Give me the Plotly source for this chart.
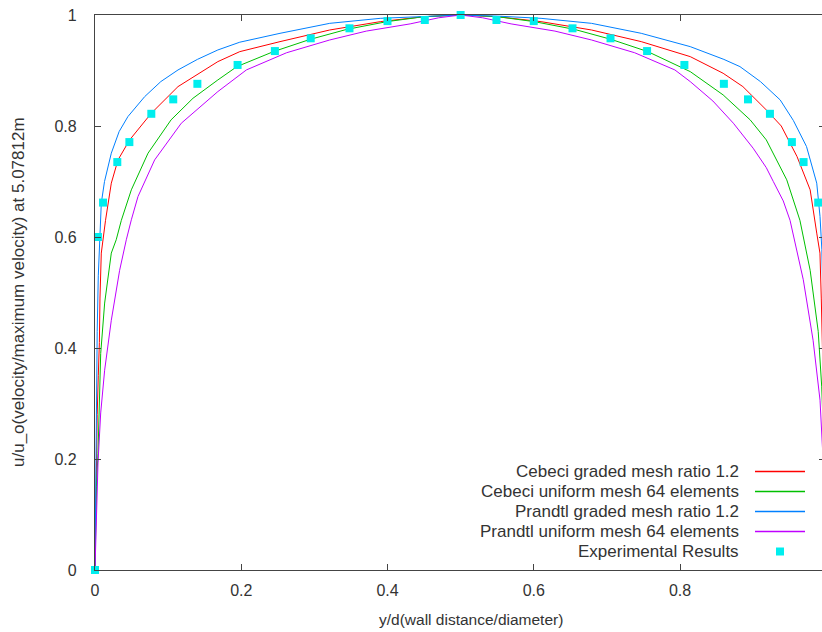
import plotly.graph_objects as go

# ---------------- data ----------------
cebeci_graded_x = [0, 0.0008, 0.0015, 0.003, 0.0045, 0.006, 0.0068, 0.0086, 0.0144, 0.0223,
                   0.0315, 0.0474, 0.077, 0.1135, 0.168, 0.198, 0.253, 0.321, 0.39, 0.45, 0.5,
                   0.55, 0.61, 0.679, 0.747, 0.814, 0.859, 0.886, 0.918, 0.9385, 0.96, 0.978,
                   0.987, 0.9914, 0.9932, 0.994, 0.9955, 0.997, 0.9985, 0.9992, 1.0]
cebeci_graded_y = [0, 0.11, 0.19, 0.28, 0.35, 0.41, 0.49, 0.571, 0.63, 0.697,
                   0.739, 0.775, 0.823, 0.871, 0.916, 0.934, 0.952, 0.973, 0.988, 0.997, 1.0,
                   0.997, 0.988, 0.973, 0.952, 0.925, 0.895, 0.871, 0.829, 0.80, 0.745, 0.685,
                   0.607, 0.571, 0.49, 0.45, 0.35, 0.28, 0.19, 0.11, 0]

cebeci_uniform_x = [0, 0.0005, 0.001, 0.002, 0.0041, 0.005, 0.0078, 0.0132, 0.0223, 0.029,
                    0.036, 0.0497, 0.0725, 0.104, 0.134, 0.168, 0.194, 0.244, 0.294, 0.344,
                    0.399, 0.45, 0.5, 0.55, 0.601, 0.656, 0.706, 0.756, 0.814, 0.859, 0.896,
                    0.918, 0.946, 0.964, 0.978, 0.989, 0.9938, 0.996, 0.998, 0.999, 0.9995, 1.0]
cebeci_uniform_y = [0, 0.05, 0.09, 0.15, 0.21, 0.27, 0.39, 0.481, 0.571, 0.595,
                    0.63, 0.685, 0.751, 0.811, 0.850, 0.883, 0.907, 0.934, 0.956, 0.974,
                    0.988, 0.997, 1.0, 0.997, 0.988, 0.974, 0.956, 0.934, 0.898, 0.856, 0.811,
                    0.775, 0.703, 0.63, 0.54, 0.43, 0.33, 0.25, 0.15, 0.09, 0.05, 0]

prandtl_graded_x = [0, 0.0005, 0.001, 0.002, 0.003, 0.0045, 0.0065, 0.0086, 0.013, 0.0223,
                    0.033, 0.045, 0.068, 0.09, 0.1135, 0.14, 0.168, 0.198, 0.253, 0.321,
                    0.39, 0.45, 0.5, 0.55, 0.61, 0.679, 0.747, 0.814, 0.86, 0.882, 0.91,
                    0.937, 0.955, 0.973, 0.987, 0.9915, 0.994, 0.996, 0.998, 0.999, 1.0]
prandtl_graded_y = [0, 0.1, 0.2, 0.33, 0.43, 0.53, 0.61, 0.661, 0.70, 0.751,
                    0.79, 0.817, 0.853, 0.88, 0.901, 0.92, 0.937, 0.951, 0.967, 0.985,
                    0.994, 0.998, 1.0, 0.998, 0.994, 0.985, 0.967, 0.943, 0.92, 0.907, 0.88,
                    0.847, 0.81, 0.763, 0.697, 0.637, 0.577, 0.45, 0.3, 0.15, 0]

prandtl_uniform_x = [0, 0.0005, 0.0023, 0.0041, 0.0078, 0.0132, 0.0223, 0.0337, 0.0428, 0.0497,
                     0.0588, 0.0816, 0.118, 0.155, 0.168, 0.207, 0.262, 0.321, 0.371, 0.431,
                     0.47, 0.5, 0.53, 0.569, 0.629, 0.679, 0.738, 0.793, 0.814, 0.845, 0.873,
                     0.9, 0.918, 0.9276, 0.9412, 0.9505, 0.9686, 0.982, 0.9915, 0.9959, 0.9977,
                     0.9995, 1.0]
prandtl_uniform_y = [0, 0.03, 0.139, 0.193, 0.283, 0.36, 0.45, 0.54, 0.595, 0.631,
                     0.673, 0.739, 0.805, 0.848, 0.862, 0.901, 0.932, 0.955, 0.971, 0.984,
                     0.995, 1.0, 0.995, 0.984, 0.971, 0.955, 0.932, 0.901, 0.88, 0.845, 0.805,
                     0.76, 0.725, 0.70, 0.665, 0.63, 0.523, 0.414, 0.306, 0.193, 0.139,
                     0.03, 0]

experimental_x = [0, 0.004, 0.011, 0.0305, 0.047, 0.077, 0.107, 0.14, 0.195, 0.246, 0.295,
                  0.348, 0.40, 0.451, 0.5, 0.549, 0.6, 0.653, 0.705, 0.755, 0.806, 0.86,
                  0.893, 0.923, 0.953, 0.969, 0.989, 0.996, 1.0]
experimental_y = [0, 0.6, 0.662, 0.735, 0.771, 0.822, 0.848, 0.876, 0.91, 0.935, 0.958,
                  0.976, 0.989, 0.991, 1.0, 0.991, 0.989, 0.976, 0.958, 0.935, 0.91, 0.876,
                  0.848, 0.822, 0.771, 0.735, 0.662, 0.6, 0]

x_tick_vals = [0, 0.2, 0.4, 0.6, 0.8]
x_tick_text = ["0", "0.2", "0.4", "0.6", "0.8"]
y_tick_vals = [0, 0.2, 0.4, 0.6, 0.8, 1.0]
y_tick_text = ["0", "0.2", "0.4", "0.6", "0.8", "1"]

series_names = ["Cebeci graded mesh ratio 1.2", "Cebeci uniform mesh 64 elements",
                "Prandtl graded mesh ratio 1.2", "Prandtl uniform mesh 64 elements",
                "Experimental Results"]
series_colors = ["#ff0000", "#00c000", "#0080ff", "#c000ff", "#00eeee"]

x_title = "y/d(wall distance/diameter)"
y_title = "u/u_o(velocity/maximum velocity) at 5.07812m"

# ---------------- figure ----------------
FONT = "Liberation Sans, Arial, sans-serif"
TXT = "#333333"
AX = "#444444"
W, H = 822, 632
ML, MR, MT, MB = 95, 0, 15, 62
PW, PH = W - ML - MR, H - MT - MB

def px_to_paper(px, py):
    return (px - ML) / PW, (H - MB - py) / PH

fig = go.Figure()
line_sets = [(cebeci_graded_x, cebeci_graded_y), (cebeci_uniform_x, cebeci_uniform_y),
             (prandtl_graded_x, prandtl_graded_y), (prandtl_uniform_x, prandtl_uniform_y)]
for (xs, ys), name, col in zip(line_sets, series_names[:4], series_colors[:4]):
    fig.add_trace(go.Scatter(x=xs, y=ys, mode="lines", name=name,
                             line=dict(color=col, width=1), showlegend=False))
fig.add_trace(go.Scatter(x=experimental_x, y=experimental_y, mode="markers",
                         name=series_names[4], yaxis="y2", cliponaxis=False,
                         marker=dict(symbol="square", size=8, color=series_colors[4]),
                         showlegend=False))

x_max = (W - ML) / 731.25

fig.update_layout(
    width=W, height=H,
    margin=dict(l=ML, r=MR, t=MT, b=MB),
    paper_bgcolor="white", plot_bgcolor="white",
    font=dict(family=FONT, size=16, color=TXT),
    xaxis=dict(range=[0, x_max], tickvals=x_tick_vals, ticktext=x_tick_text,
               ticks="inside", ticklen=6, tickcolor=AX, tickwidth=1,
               showline=True, linecolor=AX, linewidth=1.3, mirror="ticks",
               showgrid=False, zeroline=False, ticklabelstandoff=6,
               tickfont=dict(family=FONT, size=16, color=TXT)),
    yaxis=dict(range=[0, 1], tickvals=y_tick_vals, ticktext=y_tick_text,
               ticks="inside", ticklen=6, tickcolor=AX, tickwidth=1,
               showline=True, linecolor=AX, linewidth=1.3, mirror=False,
               showgrid=False, zeroline=False, ticklabelstandoff=14,
               tickfont=dict(family=FONT, size=16, color=TXT)),
    yaxis2=dict(range=[0, 1], overlaying="y", side="right", tickvals=y_tick_vals,
                ticks="inside", ticklen=3, tickcolor=AX, showticklabels=False,
                showline=False, showgrid=False, zeroline=False),
)

annotations = []
shapes = []
ax_, ay_ = px_to_paper(471, 619)
annotations.append(dict(x=ax_, y=ay_, xref="paper", yref="paper", text=x_title,
                        showarrow=False, xanchor="center", yanchor="middle",
                        font=dict(family=FONT, size=15.5, color=TXT)))
ax_, ay_ = px_to_paper(18, 292)
annotations.append(dict(x=ax_, y=ay_, xref="paper", yref="paper", text=y_title,
                        showarrow=False, textangle=-90, xanchor="center", yanchor="middle",
                        font=dict(family=FONT, size=17, color=TXT)))

row_y = [471.5, 491.5, 511.5, 531.5, 551.5]
for i, (name, col) in enumerate(zip(series_names, series_colors)):
    tx, ty = px_to_paper(741, row_y[i])
    annotations.append(dict(x=tx, y=ty, xref="paper", yref="paper", text=name,
                            showarrow=False, xanchor="right", yanchor="middle",
                            font=dict(family=FONT, size=17, color=TXT)))
    if i < 4:
        x0, y0 = px_to_paper(755, row_y[i])
        x1, _ = px_to_paper(805, row_y[i])
        shapes.append(dict(type="line", xref="paper", yref="paper", x0=x0, x1=x1,
                           y0=y0, y1=y0, layer="above", opacity=1,
                           line=dict(color=col, width=1.5)))
    else:
        x0, y0 = px_to_paper(776, row_y[i] + 4)
        x1, y1 = px_to_paper(784, row_y[i] - 4)
        shapes.append(dict(type="rect", xref="paper", yref="paper", x0=x0, x1=x1,
                           y0=y0, y1=y1, layer="above", line=dict(width=0),
                           fillcolor=col))

fig.update_layout(annotations=annotations, shapes=shapes)
fig.write_html("out.html")
